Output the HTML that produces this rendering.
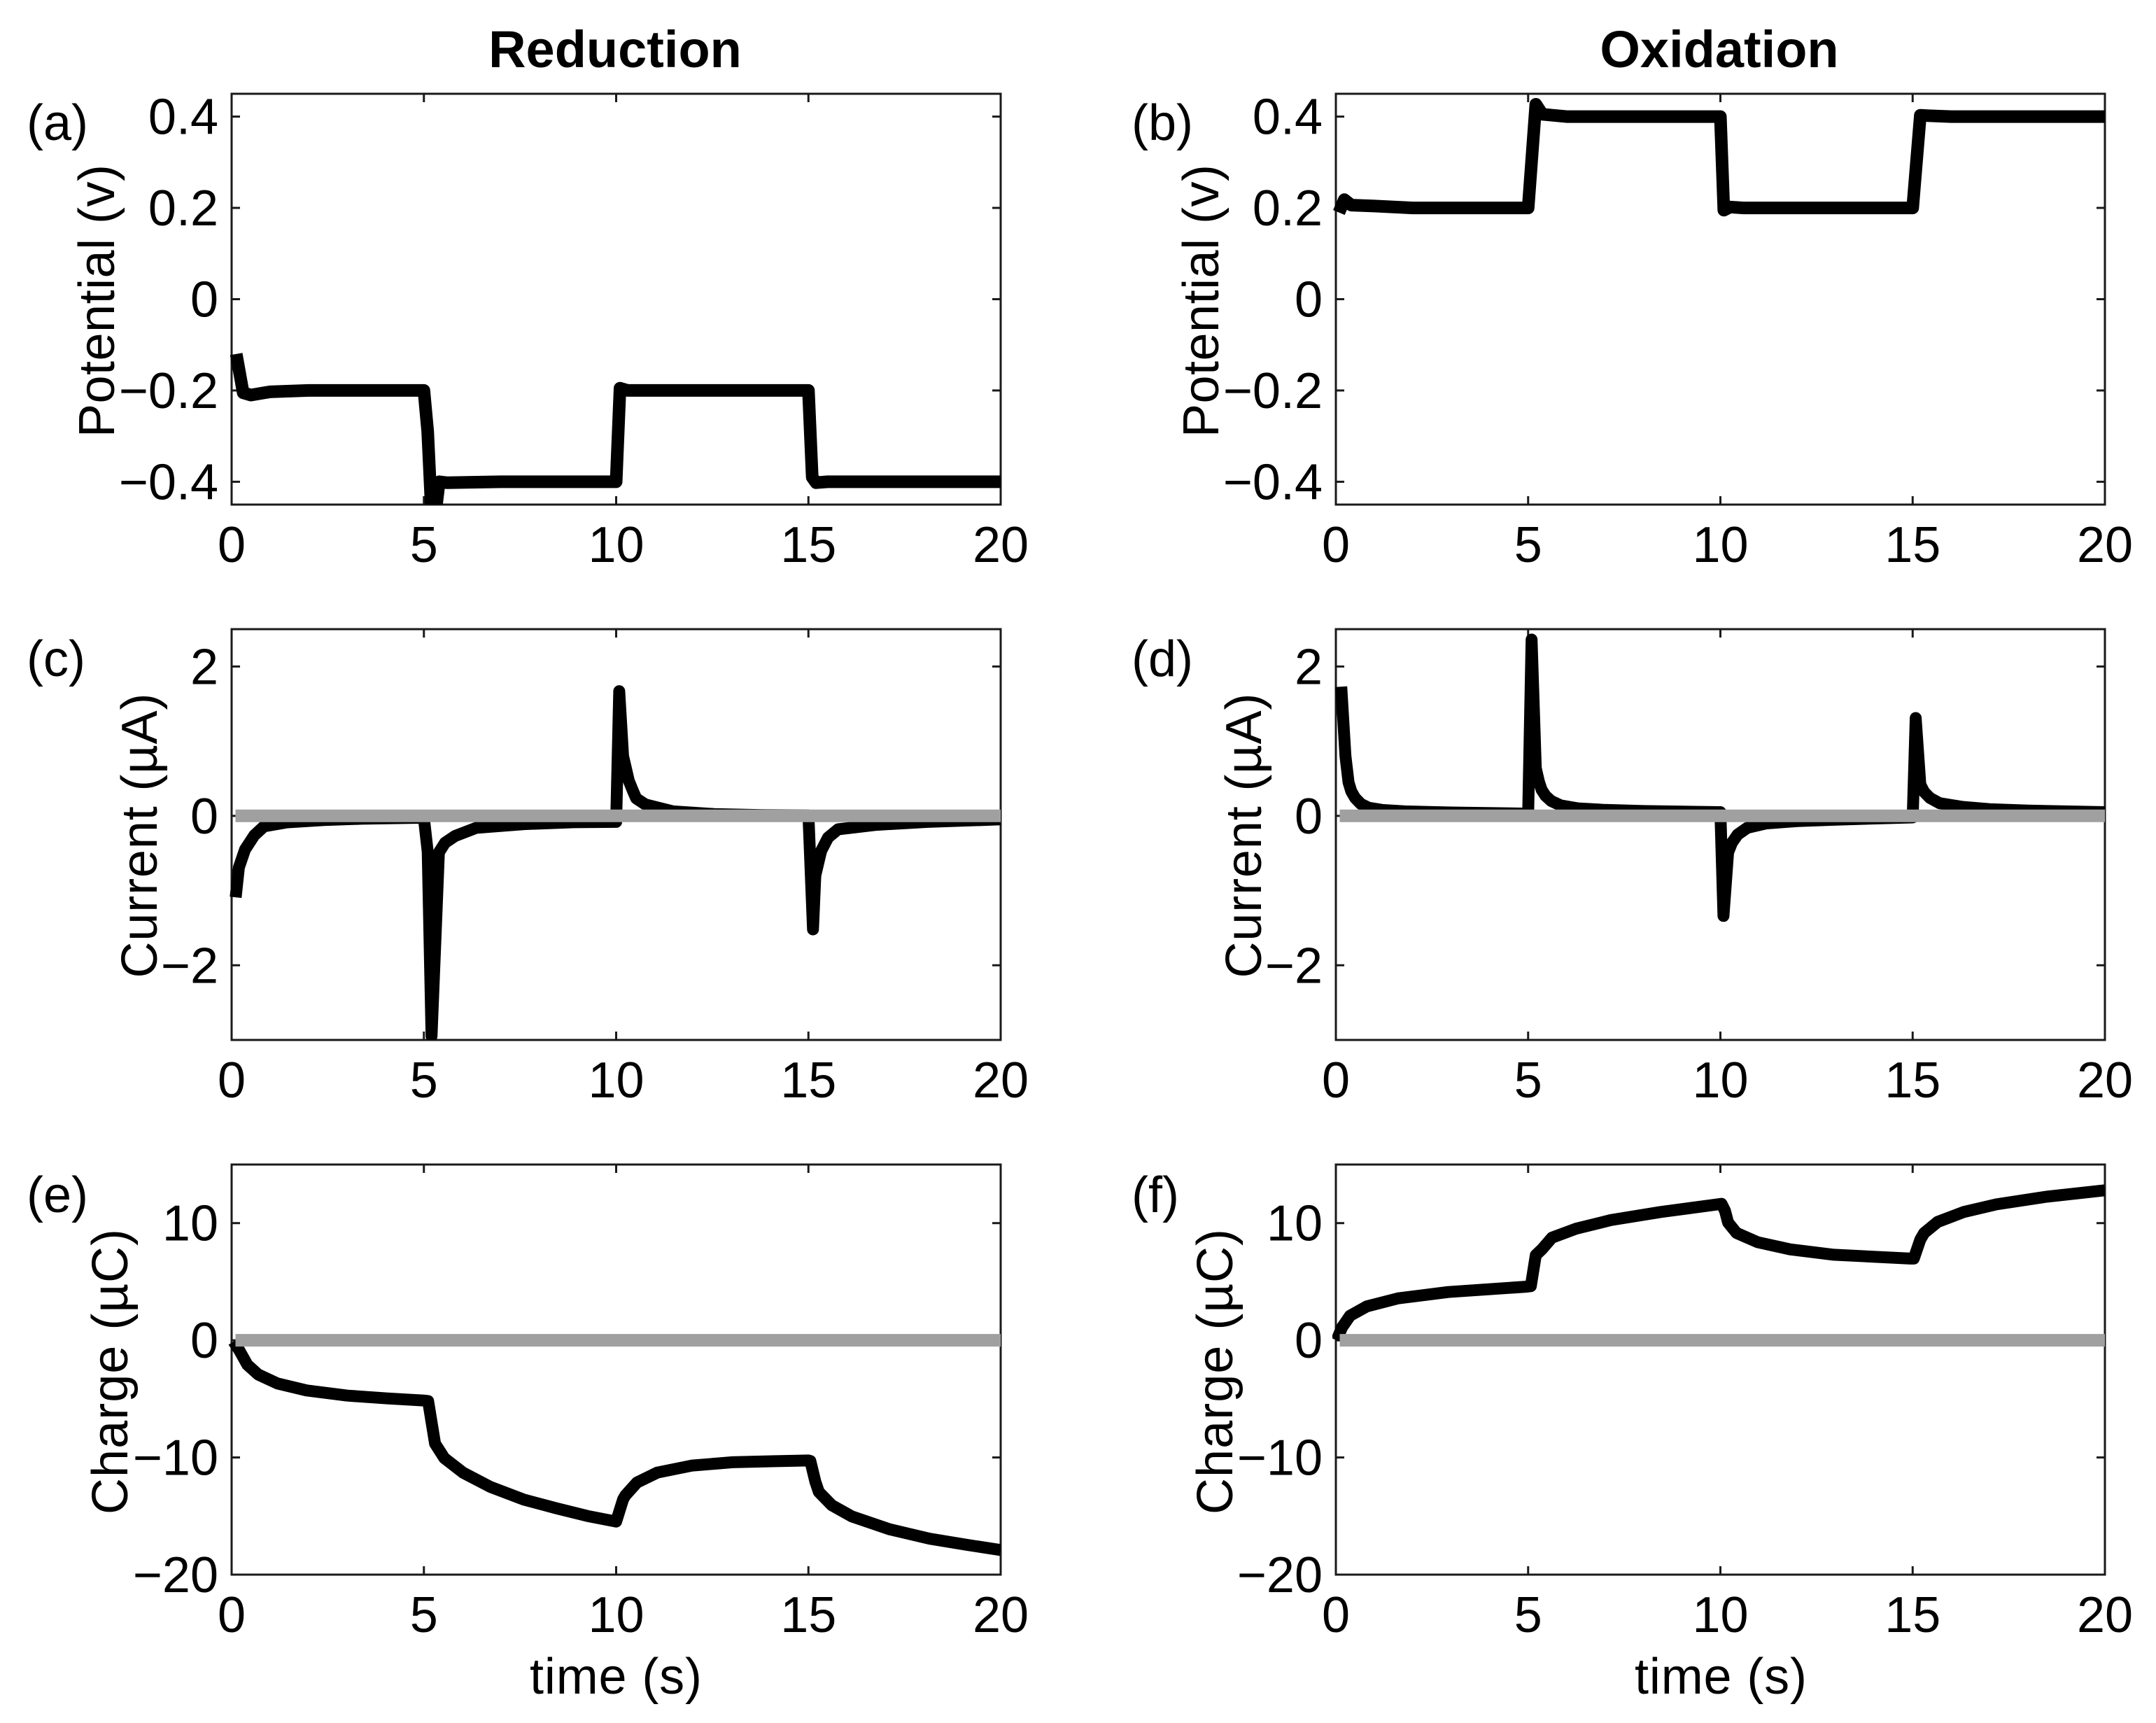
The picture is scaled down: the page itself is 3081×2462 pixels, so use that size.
<!DOCTYPE html>
<html lang="en">
<head>
<meta charset="utf-8">
<title>Reduction and oxidation chronoamperometry panels</title>
<style>
html,body{margin:0;padding:0;background:#fff;}
svg{display:block;}
text{font-family:"Liberation Sans",Arial,sans-serif;font-size:72px;fill:#000;}
.title{font-weight:bold;font-size:74px;text-anchor:middle;}
</style>
</head>
<body>
<svg id="figure" xmlns="http://www.w3.org/2000/svg" width="3081" height="2462" viewBox="0 0 3081 2462">
  <rect x="0" y="0" width="3081" height="2462" fill="#fff"/>
  <text class="title" x="879" y="96">Reduction</text>
  <text class="title" x="2457" y="96">Oxidation</text>

  <text x="38" y="200">(a)</text>
  <text x="1617" y="200">(b)</text>
  <text x="38" y="966">(c)</text>
  <text x="1617" y="966">(d)</text>
  <text x="38" y="1732">(e)</text>
  <text x="1617" y="1732">(f)</text>

  <text text-anchor="middle" transform="translate(163,430) rotate(-90)" textLength="390">Potential (v)</text>
  <text text-anchor="middle" transform="translate(1741,430) rotate(-90)" textLength="390">Potential (v)</text>
  <text text-anchor="middle" transform="translate(224,1194) rotate(-90)" textLength="407">Current (µA)</text>
  <text text-anchor="middle" transform="translate(1802,1194) rotate(-90)" textLength="407">Current (µA)</text>
  <text text-anchor="middle" transform="translate(182,1960) rotate(-90)" textLength="408">Charge (µC)</text>
  <text text-anchor="middle" transform="translate(1761,1960) rotate(-90)" textLength="408">Charge (µC)</text>

  <text text-anchor="middle" x="880" y="2420" textLength="246">time (s)</text>
  <text text-anchor="middle" x="2459" y="2420" textLength="246">time (s)</text>
</svg>
<script>
/* ---- tick labels ---- */
const timeTicks = [0, 5, 10, 15, 20];
const potentialTicks = [-0.4, -0.2, 0, 0.2, 0.4];
const currentTicks = [-2, 0, 2];
const chargeTicks = [-20, -10, 0, 10];

/* ---- panel (a) reduction potential ---- */
const timeA = [0.12, 0.3, 0.5, 1, 2, 5, 5.1, 5.2, 5.3, 5.4, 5.6, 7, 10, 10.1, 10.3, 12, 15, 15.1, 15.2, 15.5, 20];
const potentialA = [-0.12, -0.205, -0.21, -0.203, -0.2, -0.2, -0.29, -0.47, -0.47, -0.4, -0.402, -0.4, -0.4, -0.195, -0.2, -0.2, -0.2, -0.39, -0.402, -0.4, -0.4];

/* ---- panel (b) oxidation potential ---- */
const timeB = [0.08, 0.22, 0.4, 1, 2, 5, 5.2, 5.37, 6, 10, 10.09, 10.25, 10.6, 15, 15.2, 15.4, 16, 20];
const potentialB = [0.19, 0.218, 0.206, 0.204, 0.2, 0.2, 0.427, 0.405, 0.4, 0.4, 0.195, 0.202, 0.2, 0.2, 0.403, 0.402, 0.4, 0.4];

/* ---- panel (c) reduction current ---- */
const timeC = [0.105, 0.19, 0.35, 0.59, 0.84, 1.42, 2.4, 3.37, 4.87, 5, 5.1, 5.2, 5.39, 5.55, 5.81, 6.36, 7.6, 8.9, 10, 10.08, 10.18, 10.33, 10.44, 10.52, 10.76, 11.48, 12.55, 13.8, 15, 15.12, 15.18, 15.33, 15.51, 15.77, 16.77, 18.1, 20];
const currentC = [-1.09, -0.69, -0.45, -0.26, -0.14, -0.088, -0.056, -0.038, -0.025, -0.03, -0.48, -2.95, -0.49, -0.36, -0.27, -0.16, -0.11, -0.085, -0.08, 1.67, 0.8, 0.47, 0.33, 0.234, 0.153, 0.06, 0.025, 0.01, 0.006, -1.52, -0.8, -0.47, -0.29, -0.18, -0.12, -0.08, -0.047];

/* ---- panel (d) oxidation current ---- */
const timeD = [0.14, 0.25, 0.33, 0.4, 0.5, 0.65, 0.85, 1.2, 1.8, 3, 5, 5.09, 5.2, 5.28, 5.35, 5.45, 5.6, 5.85, 6.3, 7, 8, 10, 10.08, 10.2, 10.3, 10.45, 10.7, 11.2, 12, 13, 15, 15.08, 15.2, 15.3, 15.45, 15.7, 16.3, 17, 18, 20];
const currentD = [1.73, 0.8, 0.45, 0.33, 0.24, 0.16, 0.11, 0.08, 0.06, 0.045, 0.03, 2.36, 0.64, 0.46, 0.35, 0.27, 0.2, 0.14, 0.1, 0.08, 0.065, 0.05, -1.34, -0.49, -0.36, -0.25, -0.16, -0.1, -0.07, -0.05, -0.02, 1.31, 0.42, 0.32, 0.24, 0.17, 0.12, 0.09, 0.07, 0.05];

/* ---- panel (e) reduction charge ---- */
const timeE = [0.05, 0.19, 0.41, 0.69, 1.19, 1.95, 3.01, 4.05, 4.99, 5.11, 5.29, 5.53, 6.02, 6.72, 7.6, 8.44, 9.26, 10, 10.18, 10.24, 10.54, 11.07, 11.98, 13.03, 14.14, 15, 15.05, 15.18, 15.27, 15.61, 16.13, 17.11, 18.15, 19.13, 20];
const chargeE = [-0.1, -0.8, -2.09, -2.92, -3.68, -4.28, -4.72, -4.96, -5.14, -5.18, -8.82, -10.05, -11.3, -12.5, -13.6, -14.33, -15, -15.47, -13.58, -13.24, -12.14, -11.29, -10.69, -10.41, -10.32, -10.26, -10.3, -12.05, -12.94, -14.08, -15.03, -16.13, -16.93, -17.46, -17.9];

/* ---- panel (f) oxidation charge ---- */
const timeF = [0.02, 0.16, 0.37, 0.81, 1.62, 2.92, 4.97, 5.07, 5.2, 5.36, 5.62, 6.24, 7.15, 8.45, 9.91, 10.03, 10.12, 10.2, 10.42, 10.97, 11.81, 12.95, 14.94, 15.03, 15.2, 15.3, 15.65, 16.33, 17.18, 18.48, 20];
const chargeF = [0, 1.1, 2.1, 2.9, 3.58, 4.12, 4.58, 4.62, 7.27, 7.77, 8.76, 9.52, 10.26, 10.95, 11.59, 11.65, 11.05, 10.05, 9.16, 8.37, 7.76, 7.3, 6.97, 6.97, 8.6, 9.16, 10.1, 10.95, 11.6, 12.25, 12.8];

/* ---- zero reference line (grey) ---- */
const zeroTimes = [0.1, 20];
const zeroValues = [0, 0];

const SVG_NS = 'http://www.w3.org/2000/svg';
const figure = document.getElementById('figure');

function svgEl(tag, attrs) {
  const el = document.createElementNS(SVG_NS, tag);
  for (const k in attrs) el.setAttribute(k, attrs[k]);
  return el;
}
function tickText(v) {
  return String(v).replace('-', '\u2212');
}

function drawPanel(id, left, top, bottom, yMin, yMax, yTicks, xs, ys, hasZero, lineWidth) {
  const width = 1099;
  const right = left + width;
  const sx = t => left + (t / 20) * width;
  const sy = v => top + ((yMax - v) / (yMax - yMin)) * (bottom - top);

  const group = svgEl('g', {});
  
  
  figure.appendChild(group);

  const clip = svgEl('clipPath', { id: 'clip-' + id });
  clip.appendChild(svgEl('rect', { x: left - 5, y: top, width: width + 5, height: bottom - top }));
  group.appendChild(clip);

  const frame = svgEl('rect', { x: left, y: top, width: width, height: bottom - top, fill: 'none', stroke: '#1a1a1a', 'stroke-width': 3 });
  
  
  group.appendChild(frame);

  timeTicks.forEach(function (t) {
    const x = sx(t);
    const markBottom = svgEl('line', { x1: x, x2: x, y1: bottom, y2: bottom - 12, stroke: '#1a1a1a', 'stroke-width': 3 });
    
    
    group.appendChild(markBottom);
    const markTop = svgEl('line', { x1: x, x2: x, y1: top, y2: top + 12, stroke: '#1a1a1a', 'stroke-width': 3 });
    
    
    group.appendChild(markTop);
    const label = svgEl('text', { x: x, y: bottom + 82, 'text-anchor': 'middle' });
    label.textContent = tickText(t);
    
    
    group.appendChild(label);
  });

  yTicks.forEach(function (v) {
    const y = sy(v);
    const markLeft = svgEl('line', { x1: left, x2: left + 12, y1: y, y2: y, stroke: '#1a1a1a', 'stroke-width': 3 });
    
    
    group.appendChild(markLeft);
    const markRight = svgEl('line', { x1: right, x2: right - 12, y1: y, y2: y, stroke: '#1a1a1a', 'stroke-width': 3 });
    
    
    group.appendChild(markRight);
    const label = svgEl('text', { x: left - 19, y: y + 25, 'text-anchor': 'end' });
    label.textContent = tickText(v);
    
    
    group.appendChild(label);
  });

  const d = xs.map((t, i) => (i ? 'L' : 'M') + sx(t).toFixed(1) + ' ' + sy(ys[i]).toFixed(1)).join(' ');
  const series = svgEl('path', { d: d, fill: 'none', stroke: '#000', 'stroke-width': lineWidth, 'stroke-linejoin': 'round', 'stroke-linecap': 'butt', 'clip-path': 'url(#clip-' + id + ')' });
  
  
  group.appendChild(series);

  if (hasZero) {
    const zd = zeroTimes.map((t, i) => (i ? 'L' : 'M') + sx(t).toFixed(1) + ' ' + sy(zeroValues[i]).toFixed(1)).join(' ');
    const zero = svgEl('path', { d: zd, fill: 'none', stroke: '#a0a0a0', 'stroke-width': 18 });
    
    
    group.appendChild(zero);
  }
}

drawPanel('a', 331, 134, 721, -0.45, 0.45, potentialTicks, timeA, potentialA, false, 18);
drawPanel('b', 1909, 134, 721, -0.45, 0.45, potentialTicks, timeB, potentialB, false, 18);
drawPanel('c', 331, 899, 1486, -3, 2.5, currentTicks, timeC, currentC, true, 17);
drawPanel('d', 1909, 899, 1486, -3, 2.5, currentTicks, timeD, currentD, true, 17);
drawPanel('e', 331, 1664, 2250, -20, 15, chargeTicks, timeE, chargeE, true, 17);
drawPanel('f', 1909, 1664, 2250, -20, 15, chargeTicks, timeF, chargeF, true, 17);
</script>
</body>
</html>
